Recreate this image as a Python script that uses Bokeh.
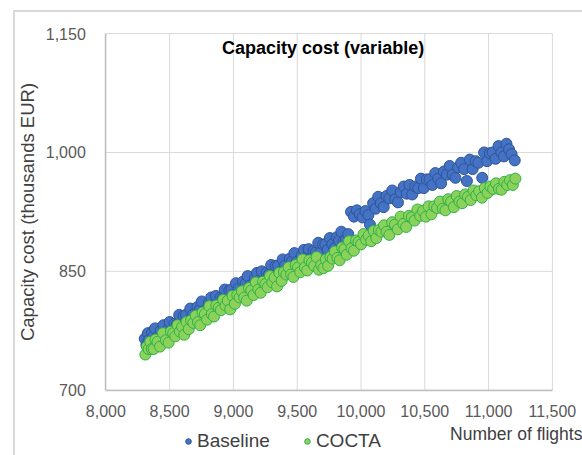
from bokeh.plotting import figure
from bokeh.models import (ColumnDataSource, Range1d, FixedTicker, NumeralTickFormatter,
                          Legend, LegendItem, Label)
from bokeh.embed import file_html
from bokeh.resources import INLINE

# Number of flights vs. variable capacity cost (thousands EUR)
baseline_flights = [
    8305, 8318, 8330, 8340, 8352, 8360, 8372, 8385, 8398, 8412, 8430, 8452, 8478, 8500,
    8520, 8538, 8556, 8575, 8592, 8610, 8628, 8645, 8662, 8680, 8700, 8718, 8735, 8752,
    8770, 8790, 8808, 8826, 8845, 8862, 8880, 8898, 8915, 8932, 8950, 8968, 8985, 9002,
    9020, 9040, 9058, 9075, 9095, 9112, 9130, 9148, 9168, 9185, 9205, 9222, 9240, 9260,
    9278, 9296, 9315, 9332, 9350, 9368, 9386, 9405, 9424, 9442, 9460, 9478, 9496, 9515,
    9535, 9553, 9572, 9590, 9610, 9628, 9646, 9665, 9684, 9702, 9720, 9738, 9756, 9775,
    9792, 9810, 9828, 9846, 9864, 9882, 9900, 9922, 9945, 9968, 9990, 10012, 10035, 10058,
    10070, 10095, 10115, 10135, 10155, 10178, 10200, 10222, 10245, 10268, 10290, 10312,
    10335, 10358, 10380, 10402, 10425, 10448, 10470, 10492, 10515, 10538, 10560, 10582,
    10605, 10628, 10650, 10672, 10695, 10718, 10740, 10762, 10785, 10808, 10830, 10852,
    10875, 10898, 10920, 10950, 10965, 10988, 11010, 11032, 11055, 11078, 11100, 11120,
    11140, 11160, 11180, 11205,
]
baseline_cost = [
    765, 757, 772, 764, 758, 772, 768, 778, 766, 763, 775, 782, 775, 786,
    774, 784, 783, 795, 783, 794, 795, 787, 803, 795, 790, 805, 801, 812,
    800, 797, 810, 817, 808, 819, 807, 817, 816, 827, 816, 826, 827, 820,
    835, 828, 822, 837, 834, 844, 832, 829, 841, 848, 839, 850, 838, 848,
    846, 858, 846, 857, 857, 849, 865, 857, 852, 866, 863, 873, 862, 858,
    870, 877, 868, 878, 867, 876, 874, 886, 874, 884, 884, 877, 892, 884,
    879, 893, 889, 900, 888, 890, 897, 925, 919, 927, 922, 918, 926, 921,
    909, 936, 929, 944, 936, 931, 945, 942, 952, 941, 937, 950,
    957, 948, 959, 947, 957, 955, 967, 955, 966, 966, 959, 974,
    967, 961, 976, 972, 983, 972, 968, 981, 987, 979, 964, 991,
    979, 989, 987, 968, 1000, 989, 999, 1000, 992, 1008, 1000, 995,
    1011, 1004, 998, 990,
]

cocta_flights = [
    8310, 8322, 8335, 8348, 8360, 8375, 8390, 8405, 8425, 8448, 8470, 8492, 8510, 8528,
    8545, 8562, 8580, 8598, 8615, 8632, 8650, 8668, 8686, 8705, 8722, 8740, 8758, 8776,
    8794, 8812, 8830, 8848, 8866, 8885, 8902, 8920, 8938, 8956, 8975, 8993, 9012, 9030,
    9048, 9066, 9085, 9104, 9122, 9140, 9158, 9176, 9195, 9214, 9232, 9250, 9268, 9287,
    9305, 9323, 9342, 9360, 9378, 9396, 9415, 9433, 9452, 9470, 9488, 9506, 9524, 9542,
    9560, 9578, 9596, 9615, 9633, 9652, 9670, 9688, 9706, 9724, 9742, 9760, 9778, 9796,
    9815, 9833, 9852, 9870, 9888, 9906, 9925, 9944, 9962, 9980, 10000, 10020, 10040, 10060,
    10080, 10100, 10120, 10140, 10160, 10180, 10200, 10222, 10244, 10266, 10288, 10310,
    10332, 10354, 10376, 10398, 10420, 10442, 10464, 10486, 10508, 10530, 10552, 10574,
    10596, 10618, 10640, 10662, 10684, 10706, 10728, 10750, 10772, 10794, 10816, 10838,
    10860, 10882, 10904, 10926, 10948, 10970, 10992, 11014, 11036, 11058, 11080, 11102,
    11124, 11146, 11168, 11190, 11210,
]
cocta_cost = [
    745, 755, 752, 761, 752, 752, 764, 761, 755, 772, 763, 760, 774, 772,
    768, 782, 774, 780, 770, 786, 777, 788, 785, 794, 786, 782, 798, 796,
    789, 806, 796, 793, 807, 804, 801, 814, 807, 813, 802, 819, 809, 820,
    817, 825, 817, 813, 829, 826, 820, 836, 827, 823, 837, 834, 830, 844,
    836, 842, 831, 848, 838, 849, 846, 855, 846, 843, 858, 855, 849, 865,
    855, 851, 864, 861, 857, 868, 852, 858, 854, 865, 857, 868, 866, 875,
    867, 864, 880, 878, 871, 888, 879, 876, 889, 887, 884, 897, 890, 895,
    888, 901, 892, 902, 900, 908, 900, 896, 912, 909, 903, 919,
    910, 906, 920, 918, 914, 928, 920, 926, 919, 932, 922, 932,
    930, 938, 929, 927, 941, 938, 931, 945, 938, 936, 947, 944,
    940, 952, 946, 951, 943, 955, 949, 957, 954, 961, 954, 953,
    963, 959, 965, 959, 967,
]

x_ticks = [8000, 8500, 9000, 9500, 10000, 10500, 11000, 11500]
y_ticks = [700, 850, 1000, 1150]

FONT = "Liberation Sans"

# The plotting frame fills the whole canvas; the axes box (8,000-11,500 x 700-1,150)
# sits inside it so the axis texts, legend and caption are all drawn in the frame.
CANVAS_W, CANVAS_H = 567, 443
BOX_LEFT, BOX_TOP = 90, 21          # pixel offset of the axes box inside the canvas
BOX_W, BOX_H = 445, 355             # pixel size of the axes box
x0, x1 = x_ticks[0], x_ticks[-1]
y0, y1 = y_ticks[0], y_ticks[-1]
x_per_px = (x1 - x0) / BOX_W
y_per_px = (y1 - y0) / BOX_H
x_start = x0 - BOX_LEFT * x_per_px
x_end = x1 + (CANVAS_W - BOX_LEFT - BOX_W) * x_per_px
y_end = y1 + BOX_TOP * y_per_px
y_start = y0 - (CANVAS_H - BOX_TOP - BOX_H) * y_per_px

p = figure(width=CANVAS_W + 2, height=CANVAS_H + 2, output_backend="svg", toolbar_location=None,
           x_range=Range1d(x_start, x_end), y_range=Range1d(y_start, y_end),
           min_border_left=0, min_border_right=0, min_border_top=0, min_border_bottom=0)
p.margin = (10, 0, 0, 13)
p.styles = {"border-top": "2px solid #d9d9d9", "border-left": "2px solid #d9d9d9"}
p.outline_line_color = None
p.background_fill_color = "white"
p.border_fill_color = "white"
p.xgrid.visible = False
p.ygrid.visible = False

# gridlines of the axes box
p.segment(x0=x_ticks, x1=x_ticks, y0=[y0] * len(x_ticks), y1=[y1] * len(x_ticks),
          line_color="#d9d9d9", line_width=1)
p.segment(x0=[x0] * len(y_ticks), x1=[x1] * len(y_ticks), y0=y_ticks, y1=y_ticks,
          line_color="#d9d9d9", line_width=1)

src_b = ColumnDataSource(dict(x=baseline_flights, y=baseline_cost))
src_c = ColumnDataSource(dict(x=cocta_flights, y=cocta_cost))

r_b = p.scatter("x", "y", source=src_b, size=11, fill_color="#4472C4",
                line_color="#2F5597", line_width=1)
r_c = p.scatter("x", "y", source=src_c, size=11, fill_color="#8CD25A",
                line_color="#2CB24A", line_width=1)

# axes
for ax in (p.xaxis[0], p.yaxis[0]):
    ax.axis_line_color = "#bfbfbf"
    ax.axis_line_width = 1.5
    ax.major_tick_line_color = None
    ax.minor_tick_line_color = None
    ax.major_label_text_font = FONT
    ax.major_label_text_font_size = "16px"
    ax.major_label_text_color = "#595959"
    ax.formatter = NumeralTickFormatter(format="0,0")

p.xaxis.ticker = FixedTicker(ticks=x_ticks)
p.yaxis.ticker = FixedTicker(ticks=y_ticks)
p.xaxis.bounds = (x0, x1)
p.yaxis.bounds = (y0, y1)
p.xaxis.fixed_location = y0
p.yaxis.fixed_location = x0
p.xaxis.major_label_standoff = 9
p.yaxis.major_label_standoff = 14

p.yaxis.axis_label = "Capacity cost (thousands EUR)"
p.yaxis.axis_label_text_font = FONT
p.yaxis.axis_label_text_font_size = "18.5px"
p.yaxis.axis_label_text_font_style = "normal"
p.yaxis.axis_label_text_color = "#404040"
p.yaxis.axis_label_standoff = 4

# chart title inside the axes box
p.add_layout(Label(x=(x0 + x1) / 2, y=y1, x_offset=-6, y_offset=-14,
                   text="Capacity cost (variable)",
                   text_font=FONT, text_font_size="18px", text_font_style="bold",
                   text_align="center", text_baseline="middle", text_color="black"))

# x caption at the lower right
p.add_layout(Label(x=x1, y=y0, x_offset=30, y_offset=-44, text="Number of flights",
                   text_font=FONT, text_font_size="17.5px", text_align="right",
                   text_baseline="middle", text_color="#404040"))

legend = Legend(items=[LegendItem(label="Baseline", renderers=[r_b]),
                       LegendItem(label="COCTA", renderers=[r_c])],
                orientation="horizontal", location=(166, 5), padding=0, margin=0, spacing=30,
                glyph_width=14, glyph_height=14, label_standoff=2, label_height=20,
                label_text_font=FONT, label_text_font_size="19px", label_text_color="#404040",
                border_line_color=None, background_fill_alpha=0)
p.add_layout(legend, "center")

open("out.html", "w").write(file_html(p, INLINE))
